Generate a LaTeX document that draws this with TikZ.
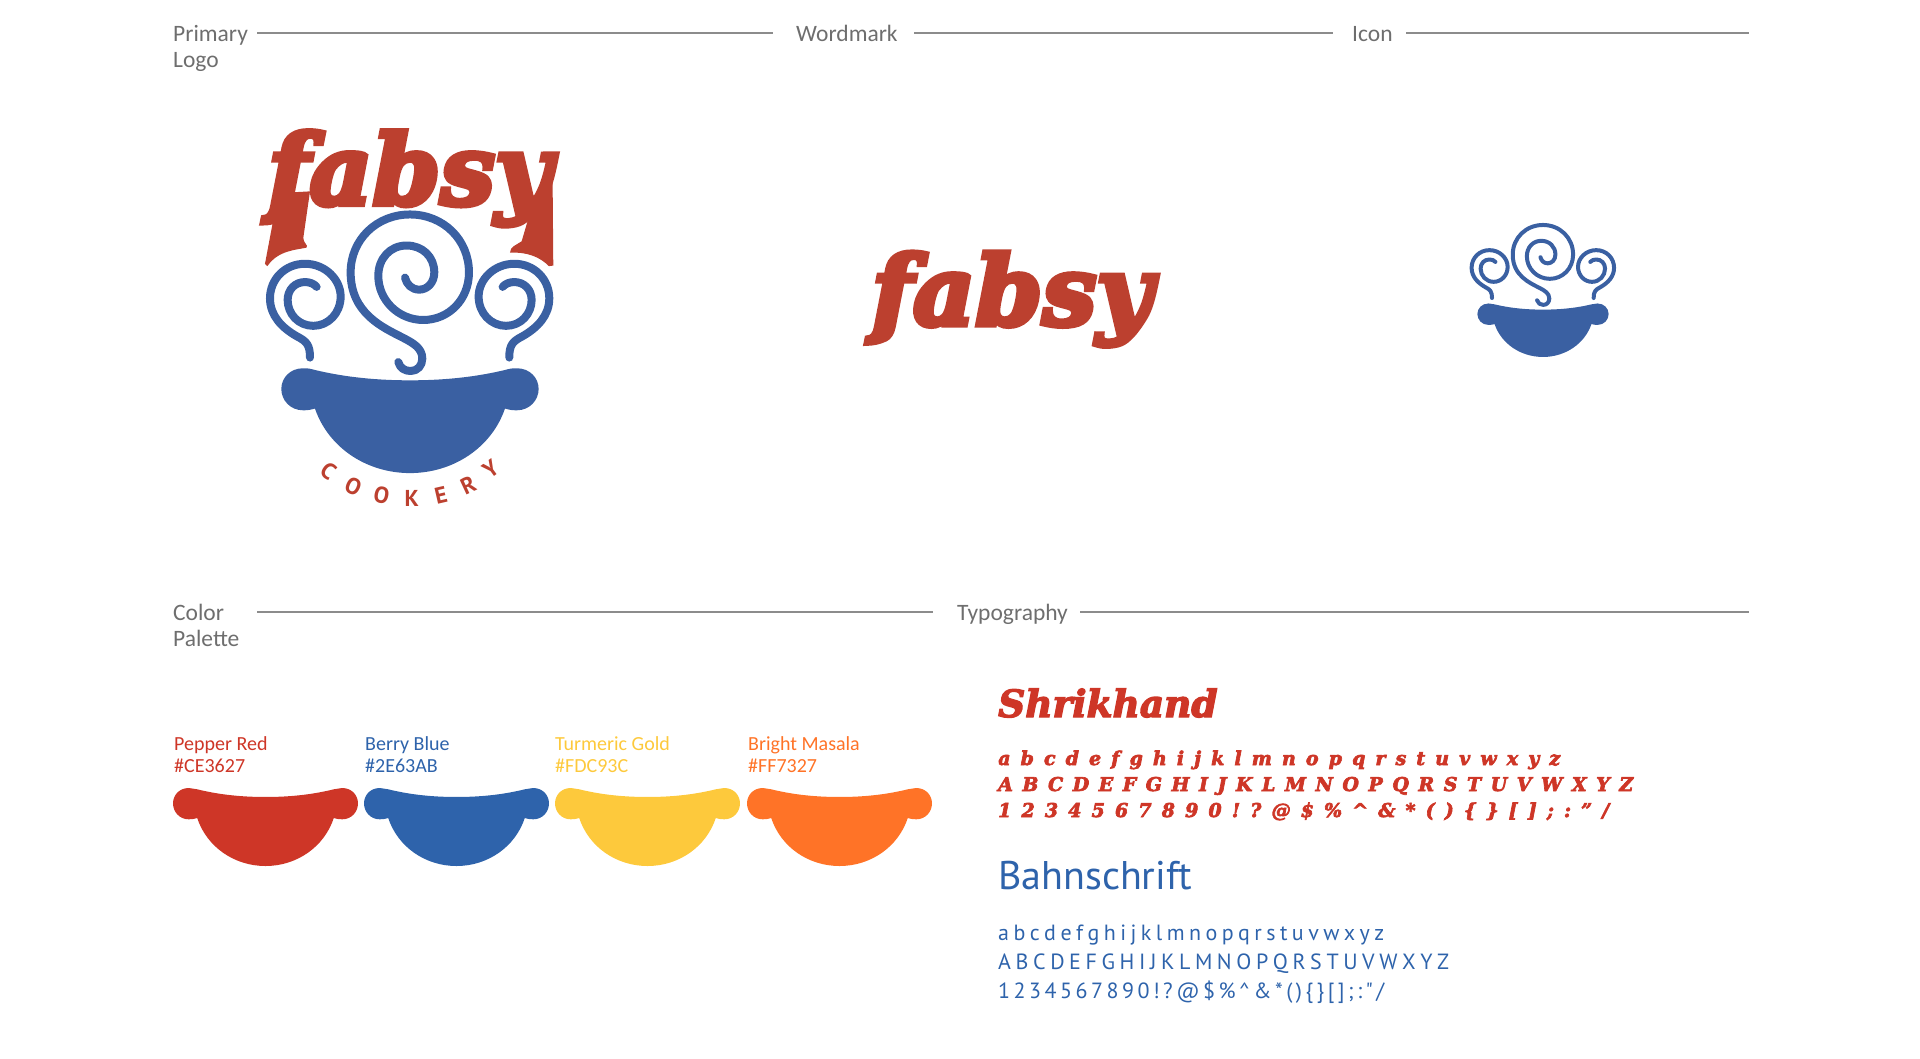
\documentclass[tikz,border=0pt]{standalone}
\usepackage{fontspec}
\setmainfont{Carlito}
\newfontfamily\dinfont{PT Sans}
\newfontface\shrikfont[FakeBold=3.5]{DejaVu Serif Bold Italic}
\newfontface\shrikheavy[FakeBold=5.5]{DejaVu Serif Bold Italic}
\definecolor{logored}{HTML}{BC402F}
\definecolor{logoblue}{HTML}{3A60A2}
\definecolor{pepperred}{HTML}{CE3627}
\definecolor{berryblue}{HTML}{2E63AB}
\definecolor{turmericgold}{HTML}{FDC93C}
\definecolor{brightmasala}{HTML}{FF7327}
\definecolor{labelgray}{HTML}{6E6E6E}
\definecolor{rulegray}{HTML}{8C8C8C}
\newcommand{\fs}[1]{\fontsize{#1}{#1}\selectfont}
\newcommand{\spreadrow}[2]{\frenchspacing\spaceskip=0pt plus 1fil\makebox[#1][s]{#2}}
\newcommand{\sideswirl}{
\draw[steam] (480,1037) .. controls (480,1000) and (470,990) .. (440,975)
  .. controls (395,950) and (360,915) .. (360,865) .. controls (360,810) and (405,765) .. (465,765)
  .. controls (525,765) and (572,810) .. (572,860) .. controls (572,908) and (535,945) .. (490,945)
  .. controls (445,945) and (413,910) .. (413,870) .. controls (413,840) and (435,818) .. (465,818)
  .. controls (480,818) and (492,823) .. (500,832);
}
\newcommand{\steamlines}{
\draw[steam] (745,1050) .. controls (750,1068) and (765,1076) .. (782,1076) .. controls (803,1076) and (817,1060) .. (817,1040)
  .. controls (817,1010) and (790,995) .. (760,980) .. controls (700,950) and (602,910) .. (602,790)
  .. controls (602,695) and (680,622) .. (780,622) .. controls (880,622) and (957,695) .. (957,790)
  .. controls (957,870) and (895,928) .. (820,928) .. controls (745,928) and (685,870) .. (685,800)
  .. controls (685,750) and (720,712) .. (770,712) .. controls (818,712) and (853,745) .. (853,790)
  .. controls (853,820) and (832,840) .. (808,840) .. controls (785,840) and (770,825) .. (765,805);
\sideswirl
\begin{scope}[shift={(1558,0)}, xscale=-1]
\sideswirl
\end{scope}
}
\tikzset{
  hdr/.style={anchor=base west, inner sep=0, text=labelgray, font=\fs{23.5}},
  rule/.style={draw=rulegray, line width=1.6},
  steam/.style={draw=logoblue, line cap=round, line join=round},
  swatchtxt/.style={anchor=base west, inner sep=0, font=\fs{20}},
  rowtxt/.style={anchor=base west, inner sep=0},
  cookletter/.style={inner sep=0, text=logored, font=\dinfont\bfseries\fs{23}},
  bowl/.pic={
    \fill[pic actions] (-285,5) .. controls (-190,27) and (-95,35) .. (0,35) .. controls (95,35) and (190,27) .. (285,5)
      .. controls (300,1) and (305,0) .. (320,0) .. controls (360,0) and (386,28) .. (386,60) .. controls (386,92) and (360,122) .. (320,122)
      .. controls (305,122) and (295,120) .. (285,117) .. controls (245,230) and (130,304) .. (0,304) .. controls (-130,304) and (-245,230) .. (-285,117)
      .. controls (-295,120) and (-305,122) .. (-320,122) .. controls (-360,122) and (-386,92) .. (-386,60) .. controls (-386,28) and (-360,0) .. (-320,0)
      .. controls (-305,0) and (-300,1) .. (-285,5) -- cycle;
  }
}
\begin{document}
\begin{tikzpicture}[x=1,y=-1]
\useasboundingbox (0,0) rectangle (1920,1058);

% top headings
\node[hdr] (primary) at (173,41) {Primary};
\node[hdr] (logo) at (173,67) {Logo};
\node[hdr] (wordmark) at (796,41) {Wordmark};
\node[hdr] (icon) at (1352,41) {Icon};
\draw[rule] (257,33) -- (773,33);
\draw[rule] (914,33) -- (1333,33);
\draw[rule] (1406,33) -- (1749,33);

% bottom headings
\node[hdr] (color) at (173,620) {Color};
\node[hdr] (palette) at (173,646) {Palette};
\node[hdr] (typography) at (957,620) {Typography};
\draw[rule] (257,612) -- (933,612);
\draw[rule] (1080,612) -- (1749,612);

% primary logo
\begin{scope}[shift={(150,0)}, xscale=.3333, yscale=.3448, line width=8]
\fill[logored] (385,560) -- (480,555) -- (460,690) .. controls (460,705) and (475,710) .. (470,718) .. controls (440,725) and (385,725) .. (352,772) -- (345,765) -- cycle;
\fill[logored] (1150,585) -- (1208,530) -- (1210,770) -- (1197,772) .. controls (1170,745) and (1130,730) .. (1080,733) .. controls (1080,715) and (1100,710) .. (1115,700) -- cycle;
\node[anchor=base, inner sep=0, text=logored, font=\shrikheavy\fs{97}] (logoword) at (779,593) {fabsy};
\steamlines
\pic[fill=logoblue, xscale=.3333, yscale=.3448] at (780,1068) {bowl};
\foreach \ch/\px/\py/\ang in {C/535/1365/-37, O/610/1410/-25, O/695/1437/-12, K/785/1447/0, E/873/1437/13, R/955/1408/25, Y/1022/1360/36}
  \node[cookletter, rotate=\ang] (cook\px) at (\px,\py) {\ch};
\end{scope}

% wordmark
\node[anchor=base, inner sep=0, text=logored, font=\shrikheavy\fs{96}] (word) at (1012,325) {fabsy};

% icon
\begin{scope}[shift={(1410.4,115.5)}, xscale=.17, yscale=.176, line width=4]
\steamlines
\pic[fill=logoblue, xscale=.17, yscale=.176] at (780,1068) {bowl};
\end{scope}

% palette
\node[swatchtxt, text=pepperred] (nameA) at (174,750) {Pepper Red};
\node[swatchtxt, text=pepperred] (hexA) at (174,772) {\#CE3627};
\node[swatchtxt, text=berryblue] (nameB) at (365,750) {Berry Blue};
\node[swatchtxt, text=berryblue] (hexB) at (365,772) {\#2E63AB};
\node[swatchtxt, text=turmericgold] (nameC) at (555,750) {Turmeric Gold};
\node[swatchtxt, text=turmericgold] (hexC) at (555,772) {\#FDC93C};
\node[swatchtxt, text=brightmasala] (nameD) at (748,750) {Bright Masala};
\node[swatchtxt, text=brightmasala] (hexD) at (748,772) {\#FF7327};
\foreach \cx/\col in {265.5/pepperred, 456.5/berryblue, 647.5/turmericgold, 839.5/brightmasala}
  \pic[fill=\col, xscale=.2396, yscale=.2566] at (\cx,788) {bowl};

% shrikhand
\node[rowtxt, text=pepperred, font=\shrikfont\fs{37.5}] (shrik) at (998,717) {Shrikhand};
\node[rowtxt, text=pepperred, font=\shrikfont\fs{19}] (shrikA) at (998,765) {\spreadrow{562pt}{a b c d e f g h i j k l m n o p q r s t u v w x y z}};
\node[rowtxt, text=pepperred, font=\shrikfont\fs{19}] (shrikB) at (998,791) {\spreadrow{635pt}{A B C D E F G H I J K L M N O P Q R S T U V W X Y Z}};
\node[rowtxt, text=pepperred, font=\shrikfont\fs{19}] (shrikC) at (998,817) {\spreadrow{611pt}{1 2 3 4 5 6 7 8 9 0 ! ? @ \$ \% \textasciicircum{} \& * ( ) \{ \} [ ] ; : ” /}};

% bahnschrift
\node[rowtxt, text=berryblue, font=\dinfont\fs{40}] (bahn) at (998,889) {Bahnschrift};
\node[rowtxt, text=berryblue, font=\dinfont\fs{22}] (bahnA) at (998,940) {\spreadrow{386pt}{a b c d e f g h i j k l m n o p q r s t u v w x y z}};
\node[rowtxt, text=berryblue, font=\dinfont\fs{22}] (bahnB) at (998,969) {\spreadrow{451pt}{A B C D E F G H I J K L M N O P Q R S T U V W X Y Z}};
\node[rowtxt, text=berryblue, font=\dinfont\fs{22}] (bahnC) at (998,998) {\spreadrow{386pt}{1 2 3 4 5 6 7 8 9 0 ! ? @ \$ \% \textasciicircum{} \& * ( ) \{ \} [ ] ; : " /}};
\end{tikzpicture}
\end{document}
